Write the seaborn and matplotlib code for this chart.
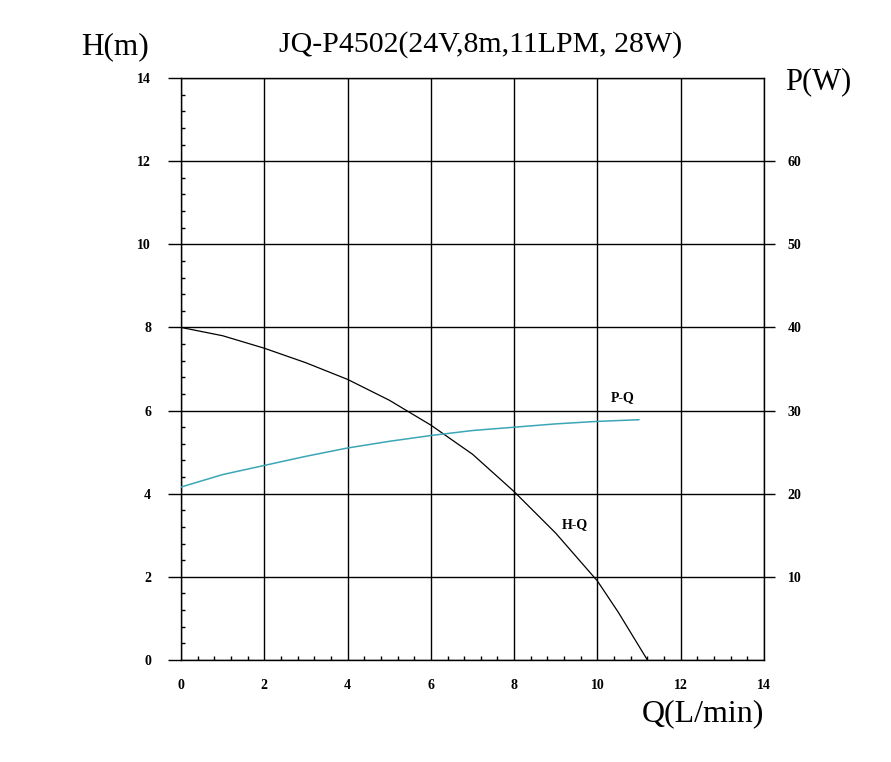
import matplotlib
matplotlib.use("Agg")
import matplotlib.pyplot as plt
from matplotlib.ticker import MultipleLocator
import seaborn as sns
import pandas as pd

# H-Q curve (head in m vs flow in L/min)
hq_flow = [0, 1, 2, 3, 4, 5, 6, 7, 8, 9, 10, 10.5, 11.2]
hq_head = [8.0, 7.8, 7.5, 7.15, 6.75, 6.25, 5.65, 4.95, 4.05, 3.05, 1.9, 1.15, 0.0]

# P-Q curve (power in W vs flow in L/min)
pq_flow = [0, 1, 2, 3, 4, 5, 6, 7, 8, 9, 10, 11]
pq_power = [20.8, 22.3, 23.4, 24.5, 25.5, 26.3, 27.0, 27.6, 28.0, 28.4, 28.7, 28.9]

x_ticks = [0, 2, 4, 6, 8, 10, 12, 14]
h_ticks = [0, 2, 4, 6, 8, 10, 12, 14]
p_ticks = [10, 20, 30, 40, 50, 60]

hq = pd.DataFrame({"Q": hq_flow, "H": hq_head})
pq = pd.DataFrame({"Q": pq_flow, "P": pq_power})

sns.set_style("white", {"text.color": "black", "xtick.color": "black",
                        "ytick.color": "black", "axes.labelcolor": "black"})
plt.rcParams['font.family'] = ['Liberation Serif', 'DejaVu Serif']

fig = plt.figure(figsize=(8.91, 7.62), dpi=100)
ax = fig.add_axes([181 / 891, 1 - 660 / 762, 583 / 891, 582 / 762])

sns.lineplot(data=hq, x="Q", y="H", ax=ax, color="black", linewidth=0.9)
ax.set_xlim(0, 14)
ax.set_ylim(0, 14)
ax.set_xticks(x_ticks)
ax.set_yticks(h_ticks)
ax.xaxis.set_minor_locator(MultipleLocator(0.4))
ax.yaxis.set_minor_locator(MultipleLocator(0.4))
ax.grid(True, which="major", color="black", linewidth=1.0)
ax.set_xlabel("")
ax.set_ylabel("")
for s in ax.spines.values():
    s.set_color("black")
    s.set_linewidth(1.0)
ax.tick_params(axis="y", which="major", direction="out", length=9.5, width=1.0,
               color="black", labelcolor="black", pad=12, labelsize=10)
ax.tick_params(axis="x", which="major", direction="out", length=0, pad=14,
               labelcolor="black", labelsize=10)
ax.tick_params(which="minor", direction="in", length=2.6, width=1.0, color="black",
               left=True, bottom=True)
for lab in ax.get_xticklabels() + ax.get_yticklabels():
    lab.set_fontweight("bold")

ax2 = ax.twinx()
sns.lineplot(data=pq, x="Q", y="P", ax=ax2, color="#3ba6b6", linewidth=1.1)
ax2.set_ylim(0, 70)
ax2.set_yticks(p_ticks)
ax2.set_ylabel("")
ax2.tick_params(axis="y", direction="out", length=8, width=1.0, color="black",
                labelcolor="black", pad=9, labelsize=10)
for lab in ax2.get_yticklabels():
    lab.set_fontweight("bold")
for s in ax2.spines.values():
    s.set_visible(False)

ax.text(10.6, 6.3, "P-Q", fontsize=10, fontweight="bold", color="black",
        ha="center", va="center")
ax.text(9.45, 3.25, "H-Q", fontsize=10, fontweight="bold", color="black",
        ha="center", va="center")

fig.text(481 / 891, 1 - 45 / 762, "JQ-P4502(24V,8m,11LPM, 28W)", fontsize=21.5,
         color="black", ha="center", va="center")
fig.text(115 / 891, 1 - 47 / 762, "H(m)", fontsize=22.5, color="black",
         ha="center", va="center")
fig.text(818 / 891, 1 - 82 / 762, "P(W)", fontsize=22, color="black",
         ha="center", va="center")
fig.text(703 / 891, 1 - 714 / 762, "Q(L/min)", fontsize=23, color="black",
         ha="center", va="center")

fig.savefig("out.png", dpi=100)
